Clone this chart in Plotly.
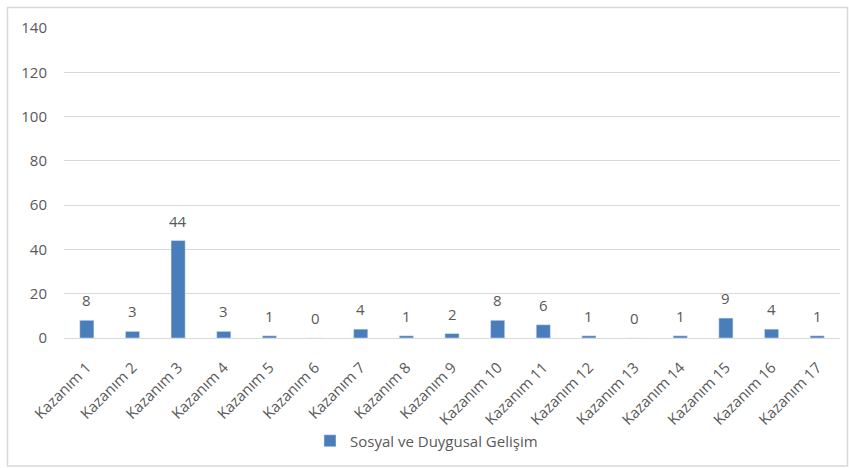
import plotly.graph_objects as go

categories = [f"Kazanım {i}" for i in range(1, 18)]
values = [8, 3, 44, 3, 1, 0, 4, 1, 2, 8, 6, 1, 0, 1, 9, 4, 1]
series_name = "Sosyal ve Duygusal Gelişim"
y_ticks = [0, 20, 40, 60, 80, 100, 120, 140]

W, H = 849, 468
L, R, T, B = 64, 9, 28, 130
pw, ph = W - L - R, H - T - B
BAR_COLOR = "#4A7EBB"
TEXT_COLOR = "#595959"
FONT = "Open Sans, Segoe UI, sans-serif"

def px_x(px):
    return (px - L) / pw

def px_y(py):
    return (H - B - py) / ph

fig = go.Figure(
    go.Bar(
        x=categories,
        y=values,
        name=series_name,
        marker=dict(color=BAR_COLOR),
        showlegend=True,
    )
)

# value labels above each bar
for cat, v in zip(categories, values):
    fig.add_annotation(
        x=cat,
        y=v,
        text=str(v),
        showarrow=False,
        yanchor="bottom",
        yshift=8,
        font=dict(size=15, color=TEXT_COLOR, family=FONT),
    )

fig.update_layout(
    width=W,
    height=H,
    margin=dict(l=L, r=R, t=T, b=B),
    paper_bgcolor="white",
    plot_bgcolor="white",
    font=dict(family=FONT, color=TEXT_COLOR),
    bargap=0.69,
    xaxis=dict(
        tickangle=-45,
        tickfont=dict(size=15, color=TEXT_COLOR),
        showgrid=False,
        showline=True,
        linecolor="#D9D9D9",
        linewidth=1,
        ticks="",
        ticklabelstandoff=14,
    ),
    yaxis=dict(
        range=[0, 140],
        tickvals=y_ticks,
        tickfont=dict(size=15, color=TEXT_COLOR),
        showgrid=True,
        gridcolor="#D9D9D9",
        gridwidth=1,
        zeroline=False,
        showline=False,
        ticks="",
        ticklen=0,
        ticklabelstandoff=16,
    ),
    legend=dict(
        orientation="h",
        x=px_x(310),
        xanchor="left",
        y=px_y(441),
        yanchor="middle",
        font=dict(size=15, color=TEXT_COLOR),
        itemwidth=30,
    ),
    shapes=[
        dict(
            type="rect",
            xref="paper",
            yref="paper",
            x0=px_x(7.5),
            x1=px_x(847.5),
            y0=px_y(466),
            y1=px_y(7.5),
            line=dict(color="#D9D9D9", width=1.5),
            fillcolor="rgba(0,0,0,0)",
        )
    ],
)

fig.write_html("out.html")
